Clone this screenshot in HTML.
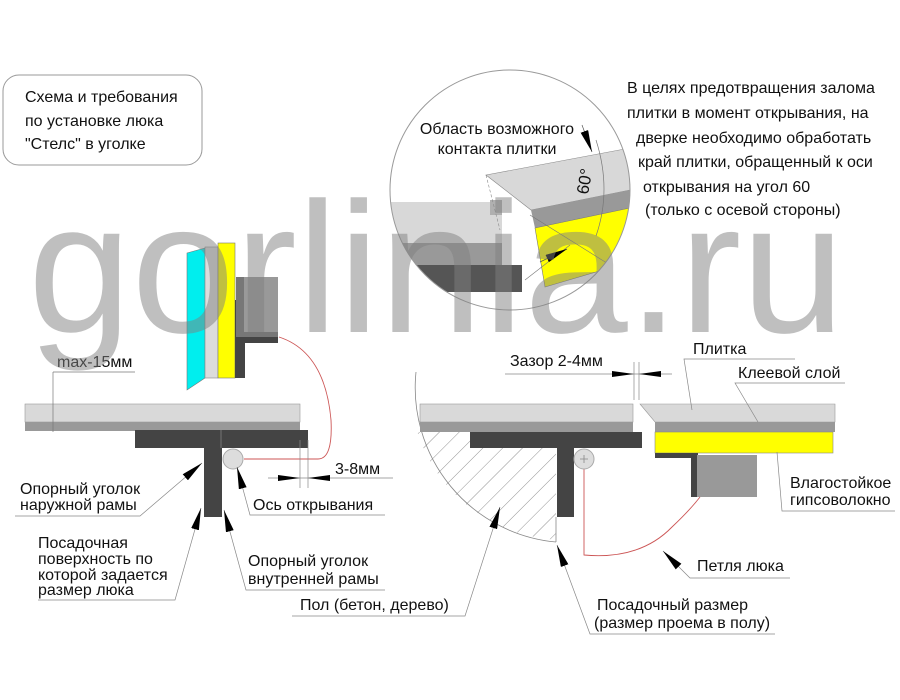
<!DOCTYPE html>
<html><head><meta charset="utf-8"><style>
html,body{margin:0;padding:0;background:#fff}
svg{display:block}
text{font-family:"Liberation Sans",Arial,sans-serif;font-size:16px;fill:#111}
</style></head><body>
<svg width="900" height="700" viewBox="0 0 900 700" xmlns="http://www.w3.org/2000/svg">
<defs>
<marker id="ar" viewBox="0 0 22 8" refX="22" refY="4" markerWidth="22" markerHeight="8" markerUnits="userSpaceOnUse" orient="auto">
<path d="M0,0 L22,4 L0,8 Z" fill="#000"/>
</marker>
<clipPath id="cc"><circle cx="510" cy="190" r="120"/></clipPath>
<clipPath id="hc"><path d="M410,432 L556,432 L556,545 L400,545 Z"/></clipPath>
<pattern id="hat" width="14" height="14" patternUnits="userSpaceOnUse" patternTransform="rotate(45)">
<line x1="0" y1="0" x2="0" y2="14" stroke="#777" stroke-width="0.8"/>
</pattern>
</defs>

<rect x="3" y="75" width="199" height="90" rx="16" fill="#fff" stroke="#999"/>
<text x="25" y="102">Схема и требования</text>
<text x="25" y="126">по установке люка</text>
<text x="25" y="149">"Стелс" в уголке</text>

<text x="627" y="93">В целях предотвращения залома</text>
<text x="627" y="118">плитки в момент открывания, на</text>
<text x="636" y="143">дверке необходимо обработать</text>
<text x="638" y="167">край плитки, обращенный к оси</text>
<text x="643" y="192">открывания на угол 60</text>
<text x="645" y="215">(только с осевой стороны)</text>

<g clip-path="url(#cc)">
<rect x="390" y="202" width="112" height="41" fill="#d8d8d8"/>
<rect x="490" y="200" width="12" height="15" fill="#b0b0b0"/>
<rect x="390" y="243" width="112" height="22" fill="#999"/>
<rect x="390" y="265" width="132" height="27" fill="#555"/>
<polygon points="486,175 630,148 630,190 531,210" fill="#d8d8d8" stroke="#888" stroke-width="0.6"/>
<polygon points="531,210 630,190 630,210 535,228" fill="#999"/>
<polygon points="535,228 630,208 630,262 545,287" fill="#ffff00" stroke="#777" stroke-width="0.6"/>
<line x1="486" y1="175" x2="500" y2="230" stroke="#888" stroke-width="0.6" stroke-dasharray="3,2"/>
<path d="M596,140 Q612,190 596,236" fill="none" stroke="#777" stroke-width="0.7"/>
<line x1="530" y1="215" x2="610" y2="265" stroke="#777" stroke-width="0.6"/>
<line x1="525" y1="280" x2="570" y2="245" stroke="#777" stroke-width="0.6"/>
</g>
<circle cx="510" cy="190" r="120" fill="none" stroke="#999" stroke-width="1"/>
<line x1="582" y1="125" x2="592" y2="152" stroke="#555" stroke-width="0.7" marker-end="url(#ar)"/>
<line x1="540" y1="262" x2="567" y2="249" stroke="#555" stroke-width="0.7" marker-end="url(#ar)"/>
<text x="497" y="134" text-anchor="middle">Область возможного</text>
<text x="497" y="154" text-anchor="middle">контакта плитки</text>
<text transform="translate(588,195) rotate(-80)" style="font-size:17px">60°</text>

<rect x="25" y="404" width="275" height="18" fill="#d9d9d9" stroke="#999" stroke-width="0.6"/>
<rect x="25" y="422" width="275" height="9" fill="#999"/>
<rect x="135" y="430" width="173" height="18" fill="#444"/>
<rect x="204" y="448" width="18" height="69" fill="#444"/>
<line x1="221" y1="430" x2="221" y2="448" stroke="#888" stroke-width="0.7"/>
<polygon points="187,253 205,248 205,378 187,390" fill="#00eeee" stroke="#777" stroke-width="0.6"/>
<rect x="205" y="247" width="13" height="131" fill="#dcdcdc" stroke="#888" stroke-width="0.6"/>
<rect x="218" y="243" width="17" height="135" fill="#ffff00" stroke="#777" stroke-width="0.6"/>
<rect x="235" y="300" width="6" height="78" fill="#444"/>
<rect x="236" y="277" width="42" height="60" fill="#777"/>
<rect x="244" y="277" width="34" height="55" fill="#999"/>
<rect x="236" y="337" width="42" height="6" fill="#444"/>
<rect x="236" y="337" width="9" height="41" fill="#444"/>
<path d="M244,459 L318,459 Q333,459 331,420 Q325,352 279,337" fill="none" stroke="#c55" stroke-width="0.9"/>
<circle cx="233" cy="459" r="10" fill="#ddd" stroke="#aaa"/>
<text x="57" y="367">max-15мм</text>
<line x1="53" y1="372" x2="135" y2="372" stroke="#777" stroke-width="0.7"/>
<line x1="53" y1="372" x2="53" y2="432" stroke="#777" stroke-width="0.7"/>
<line x1="300" y1="440" x2="300" y2="488" stroke="#888" stroke-width="0.7"/>
<line x1="308" y1="440" x2="308" y2="488" stroke="#888" stroke-width="0.7"/>
<line x1="268" y1="478" x2="393" y2="478" stroke="#888" stroke-width="0.7"/>
<polygon points="278,475 300,478 278,481" fill="#000"/>
<polygon points="330,475 308,478 330,481" fill="#000"/>
<text x="335" y="474">3-8мм</text>
<text x="20" y="494">Опорный уголок</text>
<text x="20" y="510">наружной рамы</text>
<polyline points="15,516 140,516 202,463" fill="none" stroke="#888" stroke-width="0.7" marker-end="url(#ar)"/>
<text x="38" y="548">Посадочная</text>
<text x="38" y="564">поверхность по</text>
<text x="38" y="580">которой задается</text>
<text x="38" y="595">размер люка</text>
<polyline points="38,600 175,600 201,508" fill="none" stroke="#888" stroke-width="0.7" marker-end="url(#ar)"/>
<text x="253" y="510">Ось открывания</text>
<polyline points="385,515 250,515 237,467" fill="none" stroke="#888" stroke-width="0.7" marker-end="url(#ar)"/>
<text x="248" y="566">Опорный уголок</text>
<text x="248" y="584">внутренней рамы</text>
<polyline points="385,590 246,590 224,510" fill="none" stroke="#888" stroke-width="0.7" marker-end="url(#ar)"/>

<g clip-path="url(#hc)"><circle cx="565" cy="385" r="155" fill="url(#hat)"/></g>
<path d="M416,372 A155,155 0 0 0 556,542" fill="none" stroke="#888" stroke-width="0.8"/>
<line x1="556" y1="517" x2="556" y2="542" stroke="#888" stroke-width="0.8"/>
<rect x="420" y="404" width="213" height="18" fill="#d9d9d9" stroke="#999" stroke-width="0.6"/>
<rect x="420" y="422" width="213" height="10" fill="#999"/>
<rect x="470" y="432" width="172" height="16" fill="#444"/>
<rect x="557" y="432" width="17" height="85" fill="#444"/>
<polygon points="640,404 835,404 835,422 655,422" fill="#d9d9d9" stroke="#999" stroke-width="0.6"/>
<rect x="655" y="422" width="180" height="10" fill="#999"/>
<rect x="655" y="432" width="178" height="21" fill="#ffff00" stroke="#888" stroke-width="0.6"/>
<rect x="655" y="453" width="42" height="5" fill="#444"/>
<rect x="691" y="453" width="7" height="44" fill="#444"/>
<rect x="697" y="455" width="60" height="42" fill="#999"/>
<path d="M584,468 L584,555 Q640,560 672,527 Q690,510 700,497" fill="none" stroke="#c55" stroke-width="0.9"/>
<circle cx="584" cy="459" r="10" fill="#ddd" stroke="#aaa"/>
<path d="M580,459 h8 M584,455 v8" stroke="#888" stroke-width="0.8"/>
<line x1="634" y1="362" x2="634" y2="400" stroke="#888" stroke-width="0.7"/>
<line x1="639" y1="362" x2="639" y2="400" stroke="#888" stroke-width="0.7"/>
<line x1="505" y1="374" x2="672" y2="374" stroke="#888" stroke-width="0.7"/>
<polygon points="612,371 634,374 612,377" fill="#000"/>
<polygon points="661,371 639,374 661,377" fill="#000"/>
<text x="510" y="366">Зазор 2-4мм</text>
<text x="693" y="354">Плитка</text>
<polyline points="795,359 684,359 692,410" fill="none" stroke="#888" stroke-width="0.7"/>
<text x="738" y="378">Клеевой слой</text>
<polyline points="845,383 735,383 758,422" fill="none" stroke="#888" stroke-width="0.7"/>
<text x="790" y="488">Влагостойкое</text>
<text x="790" y="505">гипсоволокно</text>
<polyline points="895,511 782,511 777,452" fill="none" stroke="#888" stroke-width="0.7"/>
<text x="697" y="571">Петля люка</text>
<polyline points="790,578 690,578 663,551" fill="none" stroke="#888" stroke-width="0.7" marker-end="url(#ar)"/>
<text x="597" y="610">Посадочный размер</text>
<text x="594" y="628">(размер проема в полу)</text>
<polyline points="775,634 590,634 557,545" fill="none" stroke="#888" stroke-width="0.7" marker-end="url(#ar)"/>
<text x="300" y="610">Пол (бетон, дерево)</text>
<polyline points="292,616 465,616 500,507" fill="none" stroke="#888" stroke-width="0.7" marker-end="url(#ar)"/>

<text x="28" y="332" style="font-size:186px;fill:#808080;fill-opacity:0.5">gorlinia.ru</text>
</svg>
</body></html>
